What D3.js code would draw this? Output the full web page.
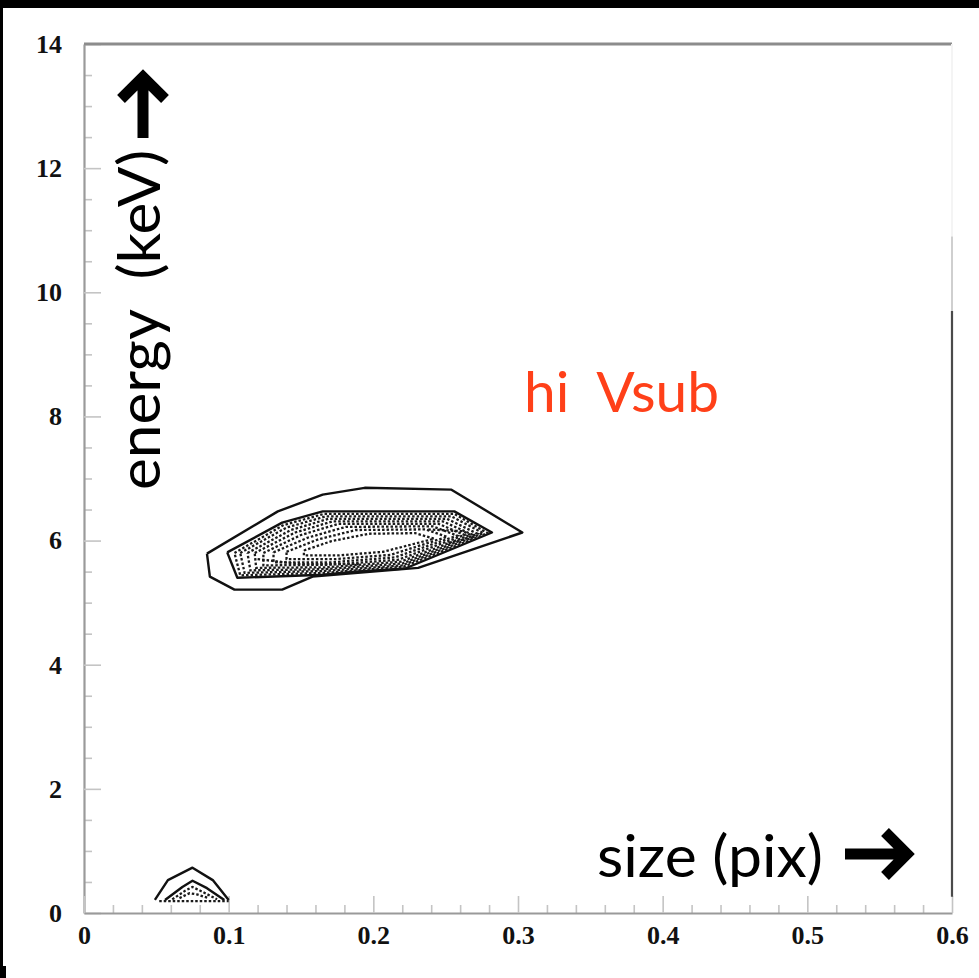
<!DOCTYPE html>
<html>
<head>
<meta charset="utf-8">
<script src="https://cdn.jsdelivr.net/npm/d3@7"></script>
<style>
  body { margin: 0; background: #000; }
  svg { display: block; }
</style>
</head>
<body>
<div id="chart-area"></div>
<script>
// axis ticks
var xTicks = [0, 0.1, 0.2, 0.3, 0.4, 0.5, 0.6];
var yTicks = [0, 2, 4, 6, 8, 10, 12, 14];

// contour lines, [size, energy]
var blobOuter = [[0.085,5.79],[0.134,6.47],[0.165,6.74],[0.194,6.85],[0.254,6.82],[0.303,6.13],
                 [0.231,5.56],[0.158,5.42],[0.137,5.21],[0.104,5.21],[0.087,5.42],[0.085,5.79]];
var blobInner = [[0.099,5.81],[0.137,6.29],[0.165,6.47],[0.256,6.47],[0.282,6.13],[0.222,5.55],
                 [0.187,5.50],[0.165,5.45],[0.106,5.40],[0.099,5.81]];
var blobCore = [
  [[0.104,5.80],[0.138,6.25],[0.166,6.43],[0.256,6.43],[0.279,6.12],[0.221,5.58],[0.166,5.48],[0.108,5.44],[0.104,5.80]],
  [[0.108,5.80],[0.140,6.21],[0.167,6.39],[0.254,6.39],[0.276,6.12],[0.220,5.60],[0.166,5.51],[0.111,5.48],[0.108,5.80]],
  [[0.113,5.80],[0.143,6.17],[0.169,6.35],[0.251,6.35],[0.272,6.11],[0.220,5.63],[0.167,5.54],[0.115,5.52],[0.113,5.80]],
  [[0.118,5.80],[0.146,6.13],[0.172,6.31],[0.248,6.31],[0.268,6.10],[0.219,5.66],[0.168,5.57],[0.119,5.56],[0.118,5.80]],
  [[0.124,5.80],[0.150,6.09],[0.176,6.27],[0.245,6.27],[0.263,6.09],[0.217,5.69],[0.169,5.61],[0.124,5.60],[0.124,5.80]],
  [[0.131,5.81],[0.155,6.05],[0.181,6.22],[0.241,6.23],[0.258,6.08],[0.215,5.73],[0.171,5.65],[0.131,5.65],[0.131,5.81]],
  [[0.140,5.82],[0.162,6.02],[0.188,6.17],[0.236,6.18],[0.251,6.06],[0.212,5.77],[0.173,5.70],[0.140,5.70],[0.140,5.82]],
  [[0.152,5.84],[0.171,5.99],[0.197,6.11],[0.229,6.12],[0.242,6.03],[0.207,5.82],[0.176,5.76],[0.152,5.76],[0.152,5.84]],
  [[0.238,6.18],[0.262,6.15],[0.270,6.06],[0.250,5.95]],
  [[0.120,5.70],[0.150,5.62],[0.190,5.62]]
];
var peakOuter = [[0.049,0.21],[0.058,0.53],[0.075,0.73],[0.089,0.53],[0.100,0.21]];
var peakInner = [[0.056,0.21],[0.068,0.42],[0.075,0.52],[0.085,0.40],[0.097,0.21]];
var peakCore = [
  [[0.061,0.22],[0.070,0.36],[0.075,0.42],[0.082,0.34],[0.092,0.22]],
  [[0.066,0.24],[0.073,0.32],[0.078,0.30],[0.086,0.24]],
  [[0.052,0.19],[0.100,0.19]]
];

var W = 979, H = 978;
var margin = {left: 84, right: 27, top: 44, bottom: 65};
var width = W - margin.left - margin.right;
var height = H - margin.top - margin.bottom;

var svg = d3.select("#chart-area").append("svg")
    .attr("width", W)
    .attr("height", H);

// white sheet on black
svg.append("rect").attr("x", 3).attr("y", 8).attr("width", W - 3).attr("height", H - 8).attr("fill", "#fff");
svg.append("rect").attr("x", 0).attr("y", 966).attr("width", 6).attr("height", 12).attr("fill", "#000");

var g = svg.append("g")
    .attr("transform", "translate(" + margin.left + "," + margin.top + ")");

var x = d3.scaleLinear().domain([0, 0.6]).range([0, width]);
var y = d3.scaleLinear().domain([0, 14]).range([height, 0]);

var tickFont = "'Liberation Serif', 'Times New Roman', serif";

// minor ticks
g.append("g")
    .attr("class", "minor")
    .call(d3.axisLeft(y).tickValues(d3.range(0, 14.01, 0.5).filter(function(v) { return v % 2 !== 0; }))
        .tickSize(-8).tickSizeOuter(0).tickFormat(""));
g.append("g")
    .attr("class", "minor")
    .attr("transform", "translate(0," + height + ")")
    .call(d3.axisBottom(x).tickValues(d3.range(0, 0.601, 0.02).filter(function(v) { return Math.abs(v * 10 - Math.round(v * 10)) > 1e-6; }))
        .tickSize(-8).tickSizeOuter(0).tickFormat(""));

// major ticks and labels
g.append("g")
    .attr("class", "major")
    .call(d3.axisLeft(y).tickValues(yTicks).tickSize(-17).tickSizeOuter(0).tickPadding(22).tickFormat(d3.format("d")));
g.append("g")
    .attr("class", "major")
    .attr("transform", "translate(0," + height + ")")
    .call(d3.axisBottom(x).tickValues(xTicks).tickSize(-17).tickSizeOuter(0).tickPadding(13)
        .tickFormat(function(d) { return d === 0 ? "0" : d3.format(".1f")(d); }));

g.selectAll(".minor line, .major line").attr("stroke", "#c4c4c4").attr("stroke-width", 1.6);
g.selectAll(".minor .domain").remove();
g.selectAll(".major .domain").attr("stroke", "#9a9a9a").attr("stroke-width", 2.2);
g.selectAll(".major text")
    .attr("fill", "#111")
    .style("font-family", tickFont)
    .style("font-weight", "bold")
    .style("font-size", "26px");

// frame: top and right edges
g.append("line")
    .attr("x1", x(0)).attr("x2", x(0.6)).attr("y1", y(14)).attr("y2", y(14))
    .attr("stroke", "#8c8c8c").attr("stroke-width", 3);
g.append("line")
    .attr("x1", x(0.6)).attr("x2", x(0.6)).attr("y1", y(14)).attr("y2", y(10.9))
    .attr("stroke", "#f4f4f4").attr("stroke-width", 2);
g.append("line")
    .attr("x1", x(0.6)).attr("x2", x(0.6)).attr("y1", y(10.9)).attr("y2", y(9.7))
    .attr("stroke", "#cfcfcf").attr("stroke-width", 2);
g.append("line")
    .attr("x1", x(0.6)).attr("x2", x(0.6)).attr("y1", y(9.7)).attr("y2", y(0.26))
    .attr("stroke", "#4a4a4a").attr("stroke-width", 2.2);

// contours
var line = d3.line()
    .x(function(d) { return x(d[0]); })
    .y(function(d) { return y(d[1]); });

function solid(data) {
  g.append("path")
      .attr("d", line(data))
      .attr("fill", "none")
      .attr("stroke", "#111")
      .attr("stroke-width", 2.4)
      .attr("stroke-linejoin", "round");
}
function dotted(data) {
  g.append("path")
      .attr("d", line(data))
      .attr("fill", "none")
      .attr("stroke", "#1a1a1a")
      .attr("stroke-width", 2.3)
      .attr("stroke-dasharray", "2.5,2");
}

solid(blobOuter);
solid(blobInner);
blobCore.forEach(dotted);
solid(peakOuter);
solid(peakInner);
peakCore.forEach(dotted);

// annotation texts
var labelFont = "Lato, 'Open Sans', sans-serif";

svg.append("text")
    .attr("x", 597).attr("y", 877)
    .attr("textLength", 226).attr("lengthAdjust", "spacingAndGlyphs")
    .style("font-family", labelFont).style("font-size", "58px").attr("fill", "#000")
    .text("size (pix)");

svg.append("text")
    .attr("transform", "translate(160,490) rotate(-90)")
    .attr("textLength", 340).attr("lengthAdjust", "spacingAndGlyphs")
    .style("font-family", labelFont).style("font-size", "58px").attr("fill", "#000")
    .style("white-space", "pre")
    .text("energy  (keV)");

svg.append("text")
    .attr("x", 524).attr("y", 412)
    .attr("textLength", 195).attr("lengthAdjust", "spacingAndGlyphs")
    .style("font-family", labelFont).style("font-size", "56px").attr("fill", "#ff4019")
    .style("white-space", "pre")
    .text("hi  Vsub");

// arrows
svg.append("path")
    .attr("d", "M143,138 V82 M121,99 L143,77 L165,99")
    .attr("fill", "none").attr("stroke", "#000").attr("stroke-width", 11)
    .attr("stroke-linejoin", "miter");
svg.append("path")
    .attr("d", "M845,854 H902 M885,832 L907,854 L885,876")
    .attr("fill", "none").attr("stroke", "#000").attr("stroke-width", 11)
    .attr("stroke-linejoin", "miter");
</script>
</body>
</html>
